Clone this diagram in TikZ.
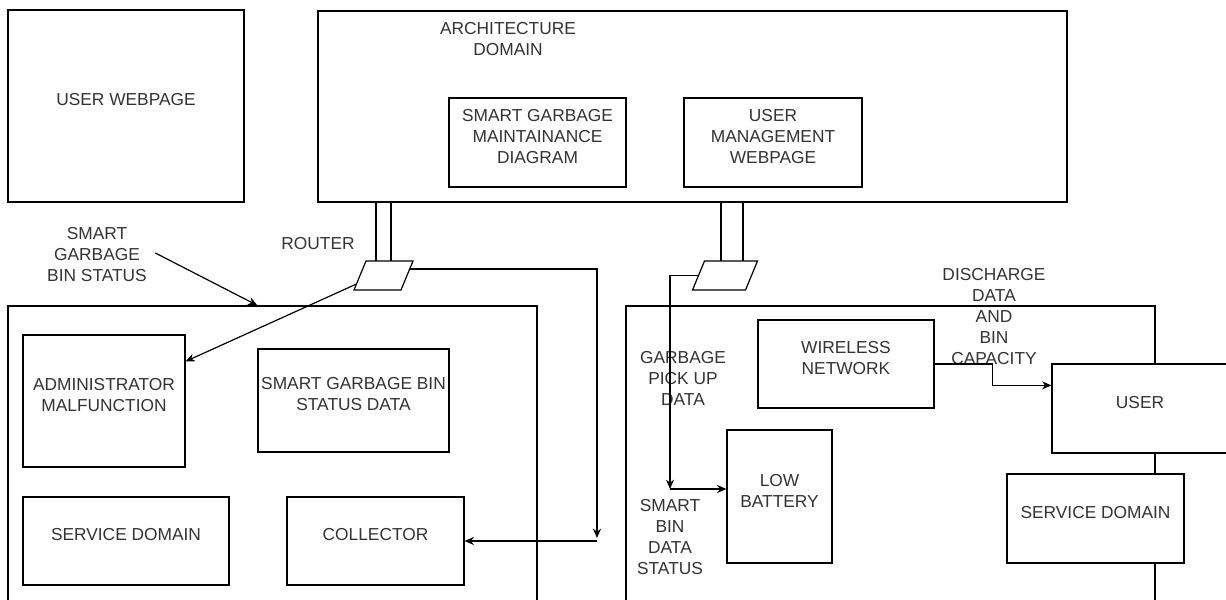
\documentclass[tikz,border=0pt]{standalone}
\usepackage{fontspec}
\setmainfont{Liberation Sans}
\usetikzlibrary{positioning,arrows.meta,fit,calc}

\begin{document}
\begin{tikzpicture}[x=0.75pt,y=-0.75pt,line width=0.9pt,
  font=\fontsize{13}{15.75}\selectfont,
  box/.style={draw,fill=white,inner sep=0pt,align=center,text=black!80},
  lbl/.style={align=center,text=black!80,inner sep=0pt},
  pics/router/.style={code={
    \draw[fill=white] (-#1-6,14.5) -- (#1-6,14.5) -- (#1+6,-14.5) -- (-#1+6,-14.5) -- cycle;
    \coordinate (-n) at (0,-14.5); \coordinate (-west) at (-#1,0);
    \coordinate (-east) at (#1,0); \coordinate (-sw) at (-#1-6,14.5);}},
  arr/.style={-{Stealth[length=7pt,width=6pt]}}]
  \useasboundingbox (0,0) rectangle (1226,599);
  \clip (0,0) rectangle (1226,599);
  % top row
  \node[box,fit={(8,10) (244,202)}] (uweb) {USER WEBPAGE};
  \node[box,fit={(318,11) (1067,202)}] (arch) {};
  \node[lbl] (archlbl) at (508,39) {ARCHITECTURE\\DOMAIN};
  \node[box,fit={(449,98) (626,187)}] (sgmd) {SMART GARBAGE\\MAINTAINANCE\\DIAGRAM};
  \node[box,fit={(684,98) (862,187)}] (umw) {USER\\MANAGEMENT\\WEBPAGE};
  % domains
  \node[box,fit={(8,306) (537,620)}] (ldom) {};
  \node[box,fit={(626,306) (1155,620)}] (rdom) {};
  % left domain
  \node[box,fit={(23,335) (185,467)}] (adm) {ADMINISTRATOR\\MALFUNCTION};
  \node[box,fit={(258,349) (449,452)}] (sgbd) {SMART GARBAGE BIN\\STATUS DATA};
  \node[box,fit={(23,497) (229,585)}] (sdl) {SERVICE DOMAIN};
  \node[box,fit={(287,497) (464,585)}] (coll) {COLLECTOR};
  % right domain
  \node[box,fit={(758,320) (934,408)}] (wnet) {WIRELESS\\NETWORK};
  \node[box,fit={(727,430) (832,563)}] (lowb) {LOW\\BATTERY};
  \node[box,fit={(1052,364) (1228,453)}] (usr) {USER};
  \node[box,fit={(1007,474) (1184,563)}] (sdr) {SERVICE DOMAIN};
  % routers, hung from the architecture domain
  \pic (rtl) at (383.5,275.5) {router=23.5};
  \pic (rtr) at (725,275.5) {router=26.5};
  \foreach \r/\dx in {rtl/-7.5,rtl/7.5,rtr/-4,rtr/18}
    \draw ($(\r-n)+(\dx,0)$) -- ++(0,-59);
  % free labels
  \node[lbl] (rlbl) at (318,244) {ROUTER};
  \node[lbl] (sgbs) at (97,255) {SMART\\GARBAGE\\BIN STATUS};
  \node[lbl] (gpud) at (683,378) {GARBAGE\\PICK UP\\DATA};
  \node[lbl] (sbds) at (670,537) {SMART\\BIN\\DATA\\STATUS};
  \node[lbl] (dcap) at (994,317) {DISCHARGE\\DATA\\AND\\BIN\\CAPACITY};
  % connectors
  \coordinate (jc) at (597,541);
  \coordinate (jg) at (670,489);
  \draw[arr] ($(sgbs.east)+(8,-2)$) -- ($(ldom.north west)+(250,0)$);
  \draw[arr] ($(rtl-sw)+(2.5,-6)$) -- ($(adm.north east)+(0,27)$);
  \draw[arr] ($(rtl-east)+(2.7,-6.5)$) -| ($(jc)+(0,-3)$);
  \draw[arr] (jc) -- (coll.east|-jc);
  \draw[arr] (rtr-west) -| (jg);
  \draw[arr] (jg) -- (jg -| lowb.west);
  \draw[arr] (wnet.east) -| ($(usr.north west)+(-59,22)$) -- ($(usr.north west)+(0,22)$);
\end{tikzpicture}
\end{document}
